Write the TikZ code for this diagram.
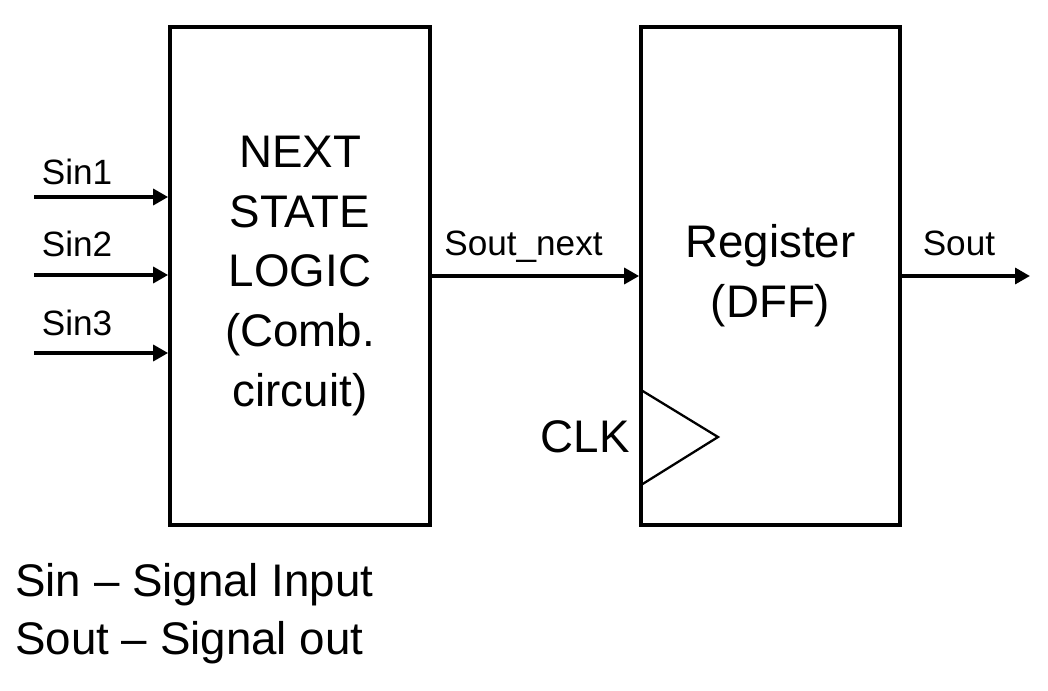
\documentclass[tikz,border=0pt]{standalone}
\usepackage{fontspec}
\setmainfont{Liberation Sans}
\usetikzlibrary{shapes.geometric, arrows, arrows.meta}
\tikzset{font=\fontsize{20}{24}\selectfont}
\tikzstyle{block} = [rectangle, minimum width=5.2cm, minimum height=9.96cm,%
text centered, align=center, draw=black, line width=2.1pt,%
font=\fontsize{26}{34}\selectfont]
\tikzstyle{signame} = [font=\fontsize{20}{24}\selectfont, inner sep=0pt]
\tikzstyle{bigtext} = [font=\fontsize{26}{33}\selectfont, inner sep=0pt]
\tikzstyle{arrow} = [line width=2.1pt,-{Triangle[length=8.5pt,width=9pt]}]
\tikzstyle{line} = [line width=1.3pt]

\begin{document}
\begin{tikzpicture}[node distance=1.4cm]
    \useasboundingbox (0,0) rectangle (20.96,-13.8);
    \node (logic) [block] at (6.0,-5.52) {NEXT\\STATE\\LOGIC\\(Comb.\\circuit)};
    \node (reg) [block, right of=logic, xshift=8.01cm, minimum width=5.18cm] {Register\\(DFF)};

    \coordinate (in1) at (0.68,-3.94);
    \coordinate (in2) at (0.68,-5.5);
    \coordinate (in3) at (0.68,-7.06);
    \coordinate (out) at (20.6,-5.52);

    \draw [arrow] (in1) -- node[signame, pos=0, anchor=base west, xshift=0.12cm, yshift=0.26cm] (lsin1) {Sin1} (in1 -| logic.west);
    \draw [arrow] (in2) -- node[signame, pos=0, anchor=base west, xshift=0.12cm, yshift=0.38cm] (lsin2) {Sin2} (in2 -| logic.west);
    \draw [arrow] (in3) -- node[signame, pos=0, anchor=base west, xshift=0.12cm, yshift=0.36cm] (lsin3) {Sin3} (in3 -| logic.west);
    \draw [arrow] (logic) -- node[signame, anchor=base, xshift=-0.24cm, yshift=0.42cm] (lnext) {Sout\_next} (reg);
    \draw [arrow] (reg) -- node[signame, anchor=base, xshift=-0.14cm, yshift=0.42cm] (lsout) {Sout} (out);

    % clock input
    \coordinate (clktop) at (12.82,-7.8);
    \coordinate (clktip) at (14.36,-8.74);
    \coordinate (clkbot) at (12.82,-9.7);
    \draw [line] (clktop) -- (clktip) -- (clkbot);
    \node (clk) [bigtext, anchor=east] at (12.6,-8.74) {CLK};

    \node (legend) [bigtext, anchor=north west, align=left] at (0.3,-11.26)%
      {Sin -- Signal Input\\Sout -- Signal out};
\end{tikzpicture}
\end{document}
